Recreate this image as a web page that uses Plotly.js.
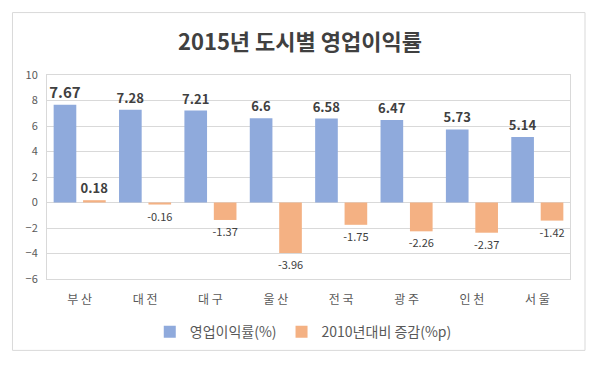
<!DOCTYPE html>
<html>
<head>
<meta charset="utf-8">
<script src="https://cdn.plot.ly/plotly-3.0.1.min.js"></script>
<style>html,body{margin:0;padding:0;background:#fff;}#chart{width:600px;height:365px;}</style>
</head>
<body>
<div id="chart"></div>
<script>
const categories = ['부 산', '대 전', '대 구', '울 산', '전 국', '광 주', '인 천', '서 울'];
const profitRate = [7.67, 7.28, 7.21, 6.6, 6.58, 6.47, 5.73, 5.14];
const changeVs2010 = [0.18, -0.16, -1.37, -3.96, -1.75, -2.26, -2.37, -1.42];
const seriesNames = ['영업이익률(%)', '2010년대비 증감(%p)'];
const titleText = '2015년 도시별 영업이익률';

const font = '"Noto Sans CJK KR", "Noto Sans", sans-serif';

const traces = [
  {
    type: 'bar', name: seriesNames[0], x: categories, y: profitRate,
    marker: {color: '#8FAADC'},
    text: profitRate.map(String), textposition: 'outside', cliponaxis: false, constraintext: 'none',
    textfont: {family: font, size: profitRate.map((v, i) => i === 0 ? 15 : 13), color: '#404040', weight: 'bold'}
  },
  {
    type: 'bar', name: seriesNames[1], x: categories, y: changeVs2010,
    marker: {color: '#F4B183'},
    text: changeVs2010.map(String), textposition: 'outside', cliponaxis: false, constraintext: 'none',
    textfont: {family: font, size: changeVs2010.map((v, i) => i === 0 ? 13 : 11), color: '#404040',
      weight: changeVs2010.map((v, i) => i === 0 ? 'bold' : 'normal')}
  }
];

const layout = {
  width: 600, height: 365,
  margin: {l: 47, r: 30, t: 75, b: 86},
  paper_bgcolor: '#fff', plot_bgcolor: '#fff',
  font: {family: font, color: '#595959', size: 11},
  title: {text: titleText, x: 0.5, xref: 'container', xanchor: 'center', y: 0.885, yref: 'container', yanchor: 'middle',
    font: {family: font, size: 22, color: '#404040', weight: 'bold'}},
  barmode: 'group', bargap: 0.1, bargroupgap: 0.23,
  showlegend: true,
  legend: {orientation: 'h', x: 0.49, xanchor: 'center', y: -0.26, yanchor: 'middle',
    font: {family: font, size: 14, color: '#595959'}, itemwidth: 30, traceorder: 'normal'},
  xaxis: {
    type: 'category', showgrid: false, showline: true, mirror: true, linecolor: '#d9d9d9', linewidth: 1,
    ticks: '', tickfont: {family: font, size: 12, color: '#595959'}, ticklabelstandoff: 10, fixedrange: true
  },
  yaxis: {
    range: [-6, 10], dtick: 2, tick0: 0, showgrid: true, gridcolor: '#d9d9d9', gridwidth: 1,
    zeroline: true, zerolinecolor: '#d9d9d9', zerolinewidth: 1,
    showline: true, mirror: true, linecolor: '#d9d9d9', linewidth: 1,
    ticks: '', tickfont: {family: font, size: 11, color: '#595959'}, ticklabelstandoff: 6, fixedrange: true
  },
  shapes: [{
    type: 'rect', xref: 'paper', yref: 'paper',
    x0: -0.066, x1: 1.0287, y0: -0.350, y1: 1.306,
    line: {color: '#d9d9d9', width: 1}, fillcolor: 'rgba(0,0,0,0)', layer: 'below'
  }]
};

Plotly.newPlot('chart', traces, layout, {displayModeBar: false, staticPlot: true});
</script>
</body>
</html>
